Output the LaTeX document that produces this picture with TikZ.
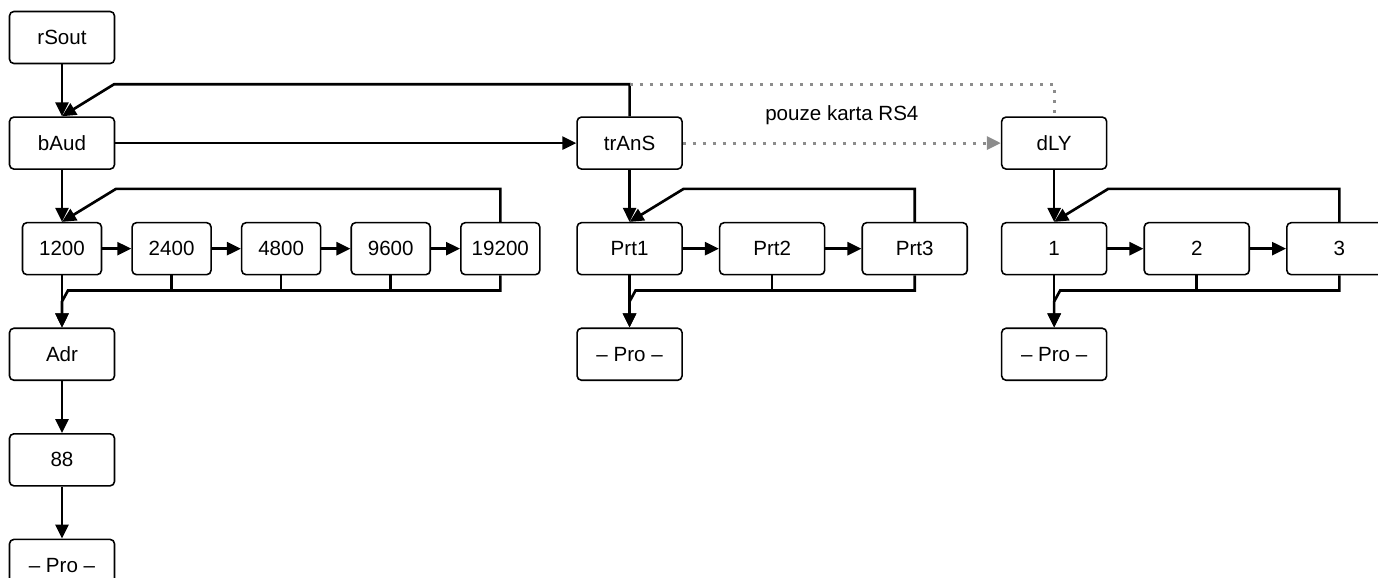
\documentclass[tikz,border=0pt]{standalone}
\usepackage{fontspec}
\setmainfont{Liberation Sans}
\usetikzlibrary{positioning,arrows.meta}

\begin{document}
\begin{tikzpicture}[
  node distance=1.04cm,
  font=\fontsize{11.7}{13}\selectfont,
  box/.style={draw, line width=0.9pt, rounded corners=2.5pt, minimum width=2.1cm, minimum height=1.04cm, inner sep=0pt},
  rate/.style={box, minimum width=1.58cm},
  link/.style={line width=1.5pt},
  arr/.style={link, -{Triangle[length=0.28cm, width=0.26cm]}},
  opt/.style={draw=gray!90, line width=1.7pt, dash pattern=on 1.7pt off 4pt},
  optarr/.style={opt, -{Triangle[length=0.28cm, width=0.26cm, fill=gray!90]}}]
  \useasboundingbox (0,0) rectangle (27.56,-11.54);
  \clip (0,0) rectangle (27.56,-11.54);
  \node[box] (rsout) at (1.24,-0.75) {rSout};
  \node[box, below=of rsout] (baud) {bAud};
  \node[box, right=9.22cm of baud] (trans) {trAnS};
  \node[box, right=6.36cm of trans] (dly) {dLY};
  % rychlost
  \node[rate, below=of baud] (b1) {1200};
  \node[rate, right=0.58cm of b1] (b2) {2400};
  \node[rate, right=0.58cm of b2] (b3) {4800};
  \node[rate, right=0.58cm of b3] (b4) {9600};
  \node[rate, right=0.58cm of b4] (b5) {19200};
  \node[box, below=of b1] (adr) {Adr};
  \node[box, below=of adr] (addr) {88};
  \node[box, below=of addr] (pro1) {– Pro –};
  % protokol
  \node[box, below=of trans] (prt1) {Prt1};
  \node[box, right=0.72cm of prt1] (prt2) {Prt2};
  \node[box, right=0.72cm of prt2] (prt3) {Prt3};
  \node[box, below=of prt1] (pro2) {– Pro –};
  % zpozdeni
  \node[box, below=of dly] (d1) {1};
  \node[box, right=0.72cm of d1] (d2) {2};
  \node[box, right=0.72cm of d2] (d3) {3};
  \node[box, below=of d1] (pro3) {– Pro –};

  \draw[arr] (rsout) -- (baud);
  \draw[arr] (baud) -- (trans);
  \draw[optarr] (trans) -- node[yshift=0.56cm]{pouze karta RS4} (dly);
  \draw[arr] (trans.north) -- ++(0,0.64) -- ([shift={(1.04,0.64)}]baud.north) -- (baud.north);
  \draw[opt] (trans.north) ++(0,0.64) -| (dly.north);

  \draw[arr] (baud) -- (b1);
  \draw[arr] (trans) -- (prt1);
  \draw[arr] (dly) -- (d1);
  \foreach \a/\b in {b1/b2,b2/b3,b3/b4,b4/b5,prt1/prt2,prt2/prt3,d1/d2,d2/d3}
    \draw[arr] (\a) -- (\b);
  \foreach \a/\b in {b5/b1,prt3/prt1,d3/d1}
    \draw[arr] (\a.north) -- ++(0,0.66) -- ([shift={(1.08,0.66)}]\b.north) -- (\b.north);

  \draw[arr] (b1) -- (adr);
  \draw[arr] (prt1) -- (pro2);
  \draw[arr] (d1) -- (pro3);
  \foreach \a/\b/\c in {b5/b1/adr,prt3/prt1/pro2,d3/d1/pro3}
    \draw[arr] (\a.south) -- ++(0,-0.3) -- ([shift={(0.12,-0.3)}]\b.south) -- ([shift={(0,-0.52)}]\b.south) -- (\c.north);
  \foreach \n in {b2,b3,b4,prt2,d2}
    \draw[link] (\n.south) -- ++(0,-0.3);

  \draw[arr] (adr) -- (addr);
  \draw[arr] (addr) -- (pro1);
\end{tikzpicture}
\end{document}
